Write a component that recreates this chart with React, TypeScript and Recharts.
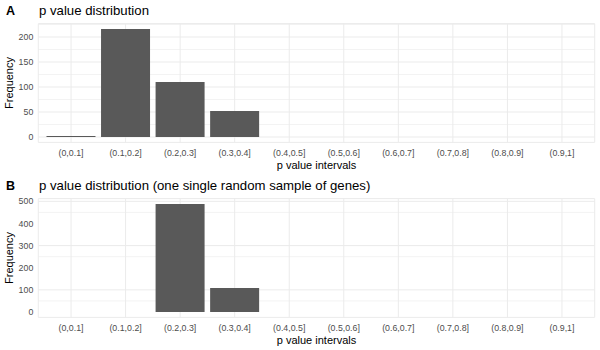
import React from 'react';
import { BarChart, Bar, XAxis, YAxis, CartesianGrid, Label } from 'recharts';

const intervals = [
  '(0,0.1]', '(0.1,0.2]', '(0.2,0.3]', '(0.3,0.4]', '(0.4,0.5]',
  '(0.5,0.6]', '(0.6,0.7]', '(0.7,0.8]', '(0.8,0.9]', '(0.9,1]',
];
const freqAll = [2, 216, 110, 52, 0, 0, 0, 0, 0, 0];
const freqSample = [0, 0, 488, 108, 0, 0, 0, 0, 0, 0];

const ticksA = [0, 50, 100, 150, 200];
const minorA = [25, 75, 125, 175, 225];
const ticksB = [0, 100, 200, 300, 400, 500];
const minorB = [50, 150, 250, 350, 450];

const FONT = '"Liberation Sans", Arial, Helvetica, sans-serif';

const YTitle = (props: any) => {
  const vb = props.viewBox;
  const x = 13;
  const y = vb.y + vb.height / 2;
  return (
    <text x={x} y={y} transform={`rotate(-90 ${x} ${y})`} textAnchor="middle"
      fontSize={11} fill="#000" fontFamily={FONT}>
      Frequency
    </text>
  );
};

const XTitle = (props: any) => {
  const vb = props.viewBox;
  return (
    <text x={vb.x + vb.width / 2} y={vb.y + 27} textAnchor="middle"
      fontSize={11} fill="#000" fontFamily={FONT}>
      p value intervals
    </text>
  );
};

type PanelProps = {
  values: number[];
  ticks: number[];
  minor: number[];
};

const Panel: React.FC<PanelProps> = ({ values, ticks, minor }) => {
  const data = intervals.map((name, i) => ({ name, value: values[i] }));
  const max = Math.max(...values);
  const pad = max * 0.05;
  return (
    <BarChart width={600} height={175} data={data}
      margin={{ top: 23.6, right: 5.3, bottom: 0, left: 0 }}
      barCategoryGap="5%">
      <CartesianGrid horizontal={true} vertical={false} horizontalValues={minor}
        stroke="#F3F3F3" strokeWidth={1} />
      <CartesianGrid stroke="#EBEBEB" strokeWidth={1} />
      <XAxis dataKey="name" interval={0} tickLine={false} axisLine={false}
        height={32.6} tickSize={4} tickMargin={3}
        padding={{ left: 5.46, right: 5.46 }}
        tick={{ fontSize: 8.8, fill: '#4D4D4D', fontFamily: FONT }}>
        <Label content={XTitle} />
      </XAxis>
      <YAxis type="number" domain={[-pad, max + pad]} ticks={ticks} width={38.3}
        allowDataOverflow tickLine={false} axisLine={false} tickSize={3} tickMargin={2}
        tick={{ fontSize: 8.8, fill: '#4D4D4D', fontFamily: FONT }}>
        <Label content={YTitle} />
      </YAxis>
      <Bar dataKey="value" fill="#595959" isAnimationActive={false} />
    </BarChart>
  );
};

const PanelTitle: React.FC<{ tag: string; text: string; top: number }> = ({ tag, text, top }) => (
  <>
    <div style={{ position: 'absolute', left: 6, top: top + 4, fontSize: 12.5, fontWeight: 'bold', fontFamily: FONT, lineHeight: '14px' }}>
      {tag}
    </div>
    <div style={{ position: 'absolute', left: 39, top: top + 3, fontSize: 13.2, fontFamily: FONT, lineHeight: '15px' }}>
      {text}
    </div>
  </>
);

export default function App() {
  return (
    <div style={{ position: 'absolute', left: 0, top: 0, width: 600, height: 350, background: '#fff' }}>
      <div style={{ position: 'absolute', left: 0, top: 0 }}>
        <Panel values={freqAll} ticks={ticksA} minor={minorA} />
      </div>
      <div style={{ position: 'absolute', left: 0, top: 175 }}>
        <Panel values={freqSample} ticks={ticksB} minor={minorB} />
      </div>
      <PanelTitle tag="A" text="p value distribution" top={0} />
      <PanelTitle tag="B" text="p value distribution (one single random sample of genes)" top={175} />
    </div>
  );
}
